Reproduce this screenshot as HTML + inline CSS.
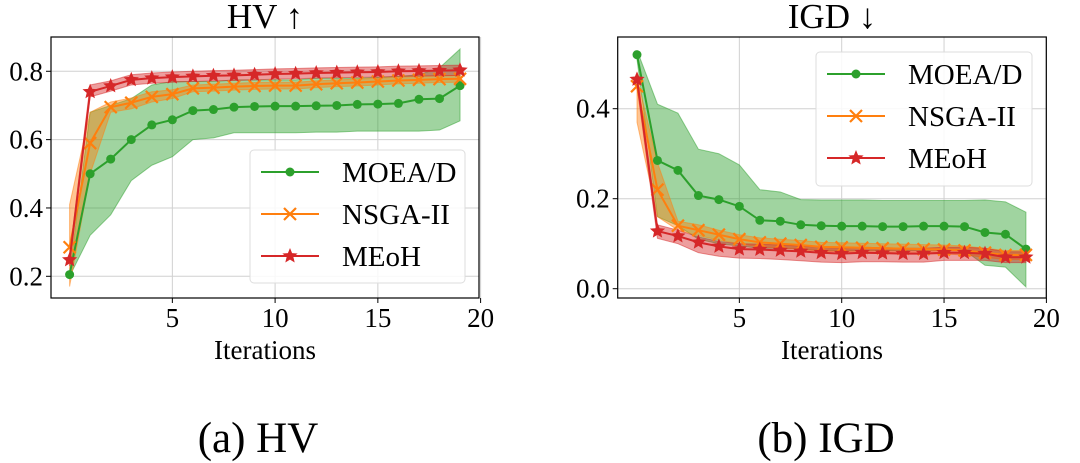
<!DOCTYPE html>
<html><head><meta charset="utf-8">
<style>
html,body{margin:0;padding:0;background:#fff;}
svg{display:block;font-family:"Liberation Serif",serif;}
</style></head>
<body>
<svg id="fig" width="1080" height="463" viewBox="0 0 1080 463">
<text x="258" y="452" font-size="43" text-anchor="middle">(a) HV</text>
<text x="826" y="452" font-size="43" text-anchor="middle">(b) IGD</text>
</svg>
<script>
const iterations=[0,1,2,3,4,5,6,7,8,9,10,11,12,13,14,15,16,17,18,19];
const hvMoead=[0.205,0.50,0.543,0.60,0.643,0.658,0.685,0.688,0.695,0.697,0.698,0.698,0.699,0.70,0.703,0.704,0.706,0.718,0.72,0.758];
const hvMoeadLo=[0.20,0.32,0.38,0.48,0.525,0.55,0.60,0.605,0.62,0.62,0.62,0.62,0.622,0.622,0.625,0.625,0.625,0.625,0.628,0.655];
const hvMoeadHi=[0.21,0.68,0.70,0.72,0.76,0.77,0.77,0.77,0.775,0.775,0.775,0.775,0.78,0.78,0.78,0.782,0.785,0.79,0.81,0.865];
const hvNsga=[0.285,0.59,0.695,0.708,0.725,0.733,0.75,0.752,0.755,0.757,0.758,0.758,0.762,0.765,0.767,0.77,0.773,0.775,0.777,0.778];
const hvNsgaLo=[0.17,0.50,0.68,0.69,0.71,0.72,0.74,0.742,0.745,0.747,0.748,0.748,0.752,0.755,0.757,0.76,0.763,0.765,0.767,0.768];
const hvNsgaHi=[0.41,0.68,0.71,0.722,0.74,0.746,0.76,0.762,0.765,0.767,0.768,0.768,0.772,0.775,0.777,0.78,0.783,0.785,0.787,0.788];
const hvMeoh=[0.248,0.74,0.757,0.775,0.78,0.783,0.785,0.787,0.788,0.79,0.792,0.793,0.795,0.796,0.797,0.798,0.80,0.801,0.802,0.803];
const hvMeohLo=[0.23,0.725,0.742,0.76,0.765,0.768,0.77,0.772,0.773,0.775,0.777,0.778,0.78,0.781,0.782,0.783,0.785,0.786,0.787,0.788];
const hvMeohHi=[0.26,0.76,0.772,0.79,0.795,0.798,0.80,0.802,0.803,0.805,0.807,0.808,0.81,0.811,0.812,0.813,0.815,0.816,0.817,0.818];
const igdMoead=[0.52,0.285,0.263,0.207,0.198,0.183,0.152,0.15,0.142,0.14,0.139,0.139,0.138,0.138,0.139,0.139,0.138,0.125,0.121,0.088];
const igdMoeadLo=[0.51,0.16,0.14,0.11,0.10,0.095,0.09,0.09,0.088,0.085,0.085,0.085,0.085,0.085,0.085,0.085,0.085,0.052,0.048,0.004];
const igdMoeadHi=[0.53,0.41,0.39,0.31,0.30,0.275,0.22,0.215,0.198,0.197,0.197,0.197,0.196,0.196,0.196,0.196,0.196,0.197,0.193,0.17];
const igdNsga=[0.45,0.22,0.14,0.13,0.12,0.11,0.103,0.10,0.097,0.093,0.092,0.091,0.09,0.089,0.088,0.087,0.085,0.08,0.075,0.075];
const igdNsgaLo=[0.37,0.16,0.13,0.118,0.108,0.1,0.093,0.09,0.087,0.083,0.082,0.081,0.08,0.079,0.078,0.077,0.075,0.07,0.065,0.065];
const igdNsgaHi=[0.47,0.28,0.15,0.142,0.13,0.12,0.113,0.11,0.107,0.103,0.102,0.101,0.1,0.099,0.098,0.097,0.095,0.09,0.085,0.085];
const igdMeoh=[0.465,0.128,0.117,0.103,0.094,0.088,0.087,0.085,0.083,0.08,0.078,0.08,0.079,0.078,0.078,0.08,0.08,0.078,0.07,0.07];
const igdMeohLo=[0.45,0.112,0.10,0.08,0.072,0.068,0.067,0.065,0.062,0.059,0.058,0.06,0.06,0.059,0.059,0.063,0.063,0.063,0.058,0.058];
const igdMeohHi=[0.48,0.142,0.13,0.115,0.105,0.1,0.099,0.097,0.095,0.092,0.09,0.092,0.091,0.09,0.09,0.092,0.092,0.09,0.082,0.082];
const xTicks=[5,10,15,20];
const hvYTicks=[0.2,0.4,0.6,0.8];
const igdYTicks=[0.0,0.2,0.4];

const NS='http://www.w3.org/2000/svg';
const svg=document.getElementById('fig');
function mk(tag,attrs,parent){const e=document.createElementNS(NS,tag);for(const k in attrs)e.setAttribute(k,attrs[k]);(parent||svg).appendChild(e);return e;}
const GREEN='#2ca02c',ORANGE='#ff7f0e',RED='#d62728';

function starPts(cx,cy,r){let p=[];for(let i=0;i<10;i++){const a=-Math.PI/2+i*Math.PI/5;const rr=i%2?r*0.45:r;p.push((cx+rr*Math.cos(a)).toFixed(1)+','+(cy+rr*Math.sin(a)).toFixed(1));}return p.join(' ');}
function marker(g,type,x,y,c){
  if(type==='o'){const m=mk('circle',{cx:x,cy:y,r:4.5,fill:c},g);}
  else if(type==='x'){const m=mk('path',{d:`M${x-6},${y-6}L${x+6},${y+6}M${x-6},${y+6}L${x+6},${y-6}`,stroke:c,'stroke-width':2.2,fill:'none'},g);}
  else {const m=mk('polygon',{points:starPts(x,y,8),fill:c},g);}
}

function chart(cfg){
  const {L,R,T,B,x0,xs,y0v,y0px,ys}=cfg;
  const X=v=>x0+v*xs, Y=v=>y0px-(v-y0v)*ys;
  const g=mk('g',{});
  
  
  const t=mk('text',{x:(L+R)/2,y:28,'font-size':35,'text-anchor':'middle'},g);t.textContent=cfg.title;
  
  xTicks.forEach(v=>{const l=mk('line',{x1:X(v),x2:X(v),y1:T,y2:B,stroke:'#d0d0d0','stroke-width':1},g);
    const tk=mk('line',{x1:X(v),x2:X(v),y1:B,y2:B+5,stroke:'#000'},g);
    const tx=mk('text',{x:X(v),y:B+29,'font-size':27,'text-anchor':'middle'},g);tx.textContent=v;});
  cfg.yTicks.forEach(v=>{const l=mk('line',{x1:L,x2:R,y1:Y(v),y2:Y(v),stroke:'#d0d0d0','stroke-width':1},g);
    const tk=mk('line',{x1:L-5,x2:L,y1:Y(v),y2:Y(v),stroke:'#000'},g);
    const tx=mk('text',{x:L-8,y:Y(v)+9,'font-size':27,'text-anchor':'end'},g);tx.textContent=v.toFixed(1);});
  const xl=mk('text',{x:(L+R)/2,y:B+61,'font-size':27,'text-anchor':'middle'},g);xl.textContent='Iterations';
  
  cfg.series.forEach(s=>{
    let d='M'+iterations.map((x,i)=>X(x)+','+Y(s.hi[i])).join('L')+'L'+iterations.slice().reverse().map((x,j)=>{const i=iterations.length-1-j;return X(x)+','+Y(s.lo[i]);}).join('L')+'Z';
    const b=mk('path',{d,fill:s.c,'fill-opacity':0.45,stroke:s.c,'stroke-opacity':0.5,'stroke-width':1},g);
    
  });
  cfg.series.forEach(s=>{
    const ln=mk('polyline',{points:iterations.map((x,i)=>X(x)+','+Y(s.v[i])).join(' '),fill:'none',stroke:s.c,'stroke-width':2},g);
    
    iterations.forEach((x,i)=>marker(g,s.m,X(x),Y(s.v[i]),s.c));
  });
  const fr=mk('rect',{x:L,y:T,width:R-L,height:B-T,fill:'none',stroke:'#000','stroke-width':1.2},g);
  
  const lg=mk('g',{},g);
  const [lx,ly,lw,lh]=cfg.legend;
  mk('rect',{x:lx,y:ly,width:lw,height:lh,rx:4,fill:'#fff','fill-opacity':0.85,stroke:'#ddd'},lg);
  cfg.series.forEach((s,i)=>{const yy=ly+22+i*42;
    const e=mk('g',{},lg);
    mk('line',{x1:lx+11,x2:lx+69,y1:yy,y2:yy,stroke:s.c,'stroke-width':2},e);
    marker(e,s.m,lx+40,yy,s.c);
    const tx=mk('text',{x:lx+92,y:yy+10,'font-size':29},e);tx.textContent=s.label;});
}
chart({name:'hv-chart',title:'HV ↑',L:51,R:479,T:37,B:298,x0:69.6,xs:20.55,y0v:0.2,y0px:276.3,ys:341.7,yTicks:hvYTicks,legend:[250,150,215,133],
 series:[{key:'moead',label:'MOEA/D',c:GREEN,m:'o',v:hvMoead,lo:hvMoeadLo,hi:hvMoeadHi},
 {key:'nsga2',label:'NSGA-II',c:ORANGE,m:'x',v:hvNsga,lo:hvNsgaLo,hi:hvNsgaHi},
 {key:'meoh',label:'MEoH',c:RED,m:'*',v:hvMeoh,lo:hvMeohLo,hi:hvMeohHi}]});
chart({name:'igd-chart',title:'IGD ↓',L:617.7,R:1046.3,T:37,B:298,x0:637,xs:20.47,y0v:0,y0px:288.7,ys:450,yTicks:igdYTicks,legend:[816,52,216,134],
 series:[{key:'moead',label:'MOEA/D',c:GREEN,m:'o',v:igdMoead,lo:igdMoeadLo,hi:igdMoeadHi},
 {key:'nsga2',label:'NSGA-II',c:ORANGE,m:'x',v:igdNsga,lo:igdNsgaLo,hi:igdNsgaHi},
 {key:'meoh',label:'MEoH',c:RED,m:'*',v:igdMeoh,lo:igdMeohLo,hi:igdMeohHi}]});
</script>
</body></html>
